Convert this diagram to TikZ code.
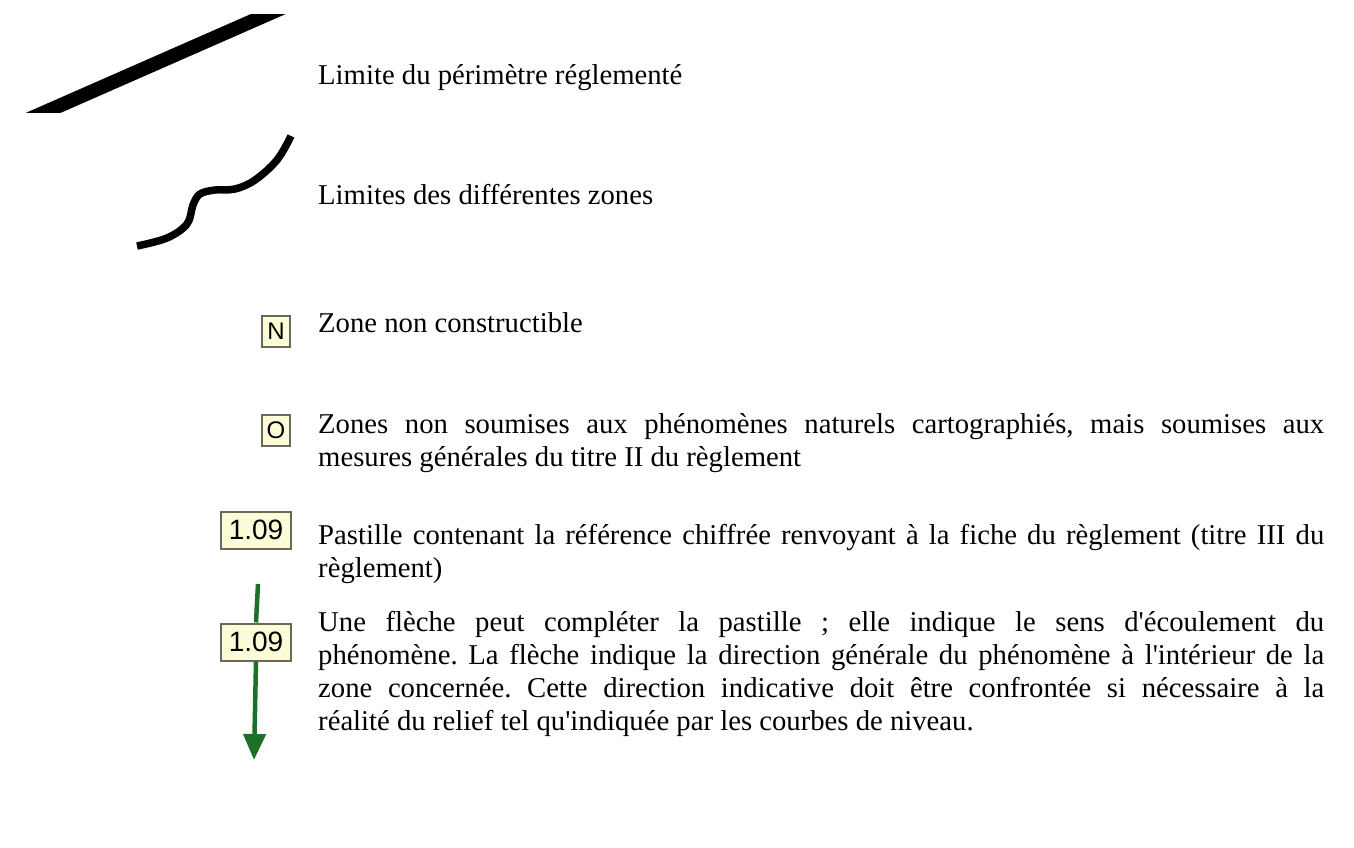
\documentclass[tikz,border=0pt]{standalone}
\usepackage{fontspec}
\setmainfont{Liberation Serif}
\newfontfamily\boxfont{Liberation Sans}
\usetikzlibrary{arrows.meta}
\definecolor{pastfill}{RGB}{252,252,214}
\definecolor{pastdraw}{RGB}{105,105,95}
\definecolor{flowgreen}{RGB}{28,112,40}
\newcommand{\q}{\textquotesingle}
\newcommand{\jline}[1]{\makebox[1006pt][s]{#1}}
\frenchspacing
\tikzset{
  legtext/.style={anchor=base west, inner sep=0pt, font=\fontsize{28.7}{33}\selectfont\frenchspacing},
  pastille/.style={draw=pastdraw, line width=2pt, fill=pastfill, inner sep=0pt},
  smallpast/.style={pastille, minimum width=28pt, minimum height=31pt,
    font=\boxfont\fontsize{24}{26}\selectfont},
  widepast/.style={pastille, minimum width=70pt, minimum height=37pt,
    font=\boxfont\fontsize{28}{30}\selectfont},
  flow/.style={draw=flowgreen, line width=4.5pt},
}
\begin{document}
\begin{tikzpicture}[x=1pt,y=-1pt]
\useasboundingbox (0,0) rectangle (1354,847);
% thick boundary line
\begin{scope}
  \clip (0,14) rectangle (330,112);
  \draw[line width=14pt] (27,120) -- (282,8);
\end{scope}
% wavy zone line
\draw[line width=7.5pt] plot[smooth, tension=0.6] coordinates
  {(137,246) (167,238) (187,224) (193,205) (200,194) (215,190) (235,189) (255,180) (277,160) (291,136)};
% pastilles
\node[smallpast] (N) at (276,331) {N};
\node[smallpast] (O) at (276,430) {O};
\node[widepast] (P1) at (256,530) {1.09};
\node[widepast] (P2) at (256,642) {1.09};
\coordinate (ftop) at (258,584);
\coordinate (fbot) at (254,760);
\draw[flow] (ftop) -- (P2.north);
\draw[flow, -{Triangle[width=22pt,length=26pt]}] (P2.south) -- (fbot);
% texts
\node[legtext] (t1) at (318,84) {Limite du périmètre réglementé};
\node[legtext] (t2) at (318,204) {Limites des différentes zones};
\node[legtext] (t3) at (318,332) {Zone non constructible};
\node[legtext] (t4a) at (318,433) {\jline{Zones non soumises aux phénomènes naturels cartographiés, mais soumises aux}};
\node[legtext] (t4b) at (318,466) {mesures générales du titre II du règlement};
\node[legtext] (t5a) at (318,544) {\jline{Pastille contenant la référence chiffrée renvoyant à la fiche du règlement (titre III du}};
\node[legtext] (t5b) at (318,577) {règlement)};
\node[legtext] (t6a) at (318,631) {\jline{Une flèche peut compléter la pastille ; elle indique le sens d\q écoulement du}};
\node[legtext] (t6b) at (318,664) {\jline{phénomène. La flèche indique la direction générale du phénomène à l\q intérieur de la}};
\node[legtext] (t6c) at (318,697) {\jline{zone concernée. Cette direction indicative doit être confrontée si nécessaire à la}};
\node[legtext] (t6d) at (318,730) {réalité du relief tel qu\q indiquée par les courbes de niveau.};
\end{tikzpicture}
\end{document}
